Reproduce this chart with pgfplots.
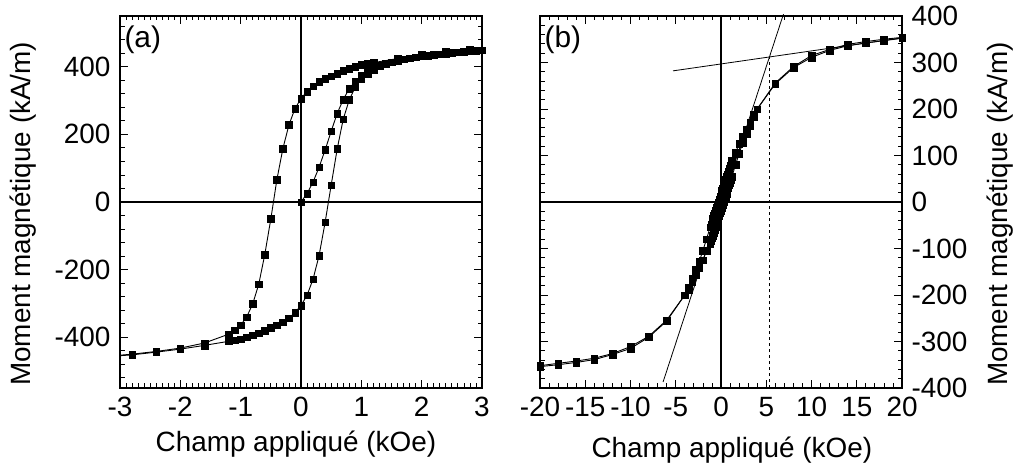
\documentclass[border=0pt]{standalone}
\usepackage{fontspec}
\setmainfont{Liberation Sans}
\usepackage{pgfplots}
\pgfplotsset{compat=1.18}
\pgfplotsset{
  myax/.style={
    scale only axis, width=362bp, height=372bp, anchor=south west,
    axis line style={line width=1.3bp},
    tick style={line width=0.9bp, black},
    minor tick style={line width=0.8bp, black},
    tick align=inside,
    major tick length=8bp, minor tick length=4.5bp,
    xtick pos=both, ytick pos=both,
    /pgf/number format/assume math mode=true,
    ticklabel style={font=\fontsize{28}{32}\selectfont},
    label style={font=\fontsize{28}{32}\selectfont},
  },
  dat/.style={black, solid, line width=0.9bp, mark=square*, mark size=3.3bp, mark options={solid, line width=0.3bp, fill=black}},
}
\begin{document}
\fontsize{28}{32}\selectfont
\begin{tikzpicture}[x=1bp,y=1bp]
\useasboundingbox (0,0) rectangle (1021,467);
% ---------- panel (a)
\begin{axis}[myax, at={(120bp,79bp)},
  xmin=-3, xmax=3, ymin=-550, ymax=550,
  xtick={-3,-2,...,3}, ytick={-400,-200,0,200,400},
  minor xtick={-3,-2.9,...,3}, minor ytick={-520,-480,...,520},
  xlabel={Champ appliqué (kOe)},
  ylabel={Moment magnétique (kA/m)},
  xlabel style={at={(axis description cs:0.486,-0.152)}, anchor=center},
  ylabel style={at={(axis description cs:-0.268,0.468)}, anchor=center, rotate=0},
]
\draw[line width=1.3bp] (axis cs:0,-550) -- (axis cs:0,550);
\draw[line width=1.3bp] (axis cs:-3,0) -- (axis cs:3,0);
% descending branch
\addplot[dat] coordinates {
(3.2,457) (2.8,452) (2.4,444) (2.0,435) (1.6,424) (1.2,412) (1.1,409) (1.0,406)
(0.9,400) (0.8,394) (0.7,388) (0.6,380) (0.5,372) (0.4,364) (0.3,355) (0.2,343)
(0.1,327) (0.0,306) (-0.1,276) (-0.2,228) (-0.3,158) (-0.4,66) (-0.5,-50) (-0.6,-155)
(-0.7,-243) (-0.8,-301) (-0.9,-340) (-1.0,-364) (-1.1,-379) (-1.2,-391) (-1.6,-417)
(-2.0,-432) (-2.4,-442) (-2.8,-450) (-3.2,-456)};
% ascending branch
\addplot[dat] coordinates {
(-3.2,-457) (-2.8,-452) (-2.4,-444) (-2.0,-435) (-1.6,-424) (-1.2,-412) (-1.1,-409) (-1.0,-406)
(-0.9,-400) (-0.8,-394) (-0.7,-388) (-0.6,-380) (-0.5,-372) (-0.4,-364) (-0.3,-355) (-0.2,-343)
(-0.1,-327) (0.0,-306) (0.1,-276) (0.2,-228) (0.3,-158) (0.4,-60) (0.5,50) (0.6,157)
(0.7,245) (0.8,302) (0.9,340) (1.0,364) (1.1,379) (1.2,391) (1.6,417)
(2.0,432) (2.4,442) (2.8,450) (3.2,456)};
% initial curve
\addplot[dat] coordinates {
(0,0) (0.1,25) (0.2,59) (0.3,103) (0.4,154) (0.5,209) (0.6,262) (0.7,303) (0.8,335)
(0.9,357) (1.0,374) (1.1,386) (1.2,396) (1.3,403) (1.4,409) (1.5,414) (1.6,418)
(1.7,422) (1.8,425) (1.9,428) (2.0,431) (2.1,433) (2.2,435) (2.3,437) (2.4,439)
(2.5,441) (2.6,443) (2.7,445) (2.8,446) (2.9,448) (3.0,449)};
\node[anchor=north west, inner sep=0pt, font=\fontsize{30}{34}\selectfont] at (axis description cs:0.012,0.975) {(a)};
\end{axis}
% ---------- panel (b)
\begin{axis}[myax, at={(540bp,79bp)}, clip=false,
  xmin=-20, xmax=20, ymin=-400, ymax=400,
  xtick={-20,-15,...,20}, ytick={-400,-300,...,400},
  minor xtick={-20,-19,...,20}, minor ytick={-400,-380,...,400},
  yticklabel pos=right,
  xlabel={Champ appliqué (kOe)},
  ylabel={Moment magnétique (kA/m)},
  xlabel style={at={(axis description cs:0.53,-0.166)}, anchor=center},
  ylabel style={at={(axis description cs:1.271,0.468)}, anchor=center, rotate=0},
]
\draw[line width=1.3bp] (axis cs:0,-400) -- (axis cs:0,400);
\draw[line width=1.3bp] (axis cs:-20,0) -- (axis cs:20,0);
\addplot[no marks, black, line width=0.8bp] coordinates {(-6.4,-387) (6.9,404)};
\addplot[no marks, black, line width=0.8bp] coordinates {(-5.3,282) (20,353)};
\addplot[no marks, black, dashed, line width=0.8bp] coordinates {(5.34,-400) (5.34,312)};
% descending branch
\addplot[dat] coordinates {
(20,352) (18,347) (16,342) (14,336) (12,326) (10,311) (8,289) (6,254) (4,200)
(3.6,188) (3.2,172) (2.8,157) (2.4,142) (2.0,125) (1.6,106) (1.2,90) (1.1,84) (1.0,78)
(0.9,72) (0.8,66) (0.7,60) (0.6,54) (0.5,48) (0.4,42) (0.3,36) (0.2,30) (0.1,24) (0,18)
(-0.1,12) (-0.2,6) (-0.3,0) (-0.4,-6) (-0.5,-12) (-0.6,-18) (-0.7,-24) (-0.8,-30)
(-0.9,-36) (-1.0,-42) (-1.1,-48) (-1.2,-54) (-1.6,-80) (-2.0,-104) (-2.4,-128)
(-2.8,-146) (-3.2,-164) (-3.6,-183) (-4,-200) (-6,-256) (-8,-291) (-10,-315)
(-12,-328) (-14,-339) (-16,-345) (-18,-350) (-20,-354)};
% ascending branch
\addplot[dat] coordinates {
(-20,-352) (-18,-347) (-16,-342) (-14,-336) (-12,-326) (-10,-311) (-8,-289) (-6,-254) (-4,-200)
(-3.6,-188) (-3.2,-172) (-2.8,-157) (-2.4,-142) (-2.0,-125) (-1.6,-106) (-1.2,-90) (-1.1,-84) (-1.0,-78)
(-0.9,-72) (-0.8,-66) (-0.7,-60) (-0.6,-54) (-0.5,-48) (-0.4,-42) (-0.3,-36) (-0.2,-30) (-0.1,-24) (0,-18)
(0.1,-12) (0.2,-6) (0.3,0) (0.4,6) (0.5,12) (0.6,18) (0.7,24) (0.8,30)
(0.9,36) (1.0,42) (1.1,48) (1.2,54) (1.6,80) (2.0,104) (2.4,128)
(2.8,146) (3.2,164) (3.6,183) (4,200) (6,256) (8,291) (10,315)
(12,328) (14,339) (16,345) (18,350) (20,354)};
\node[anchor=north west, inner sep=0pt, font=\fontsize{30}{34}\selectfont] at (axis description cs:0.012,0.975) {(b)};
\end{axis}
\end{tikzpicture}
\end{document}
